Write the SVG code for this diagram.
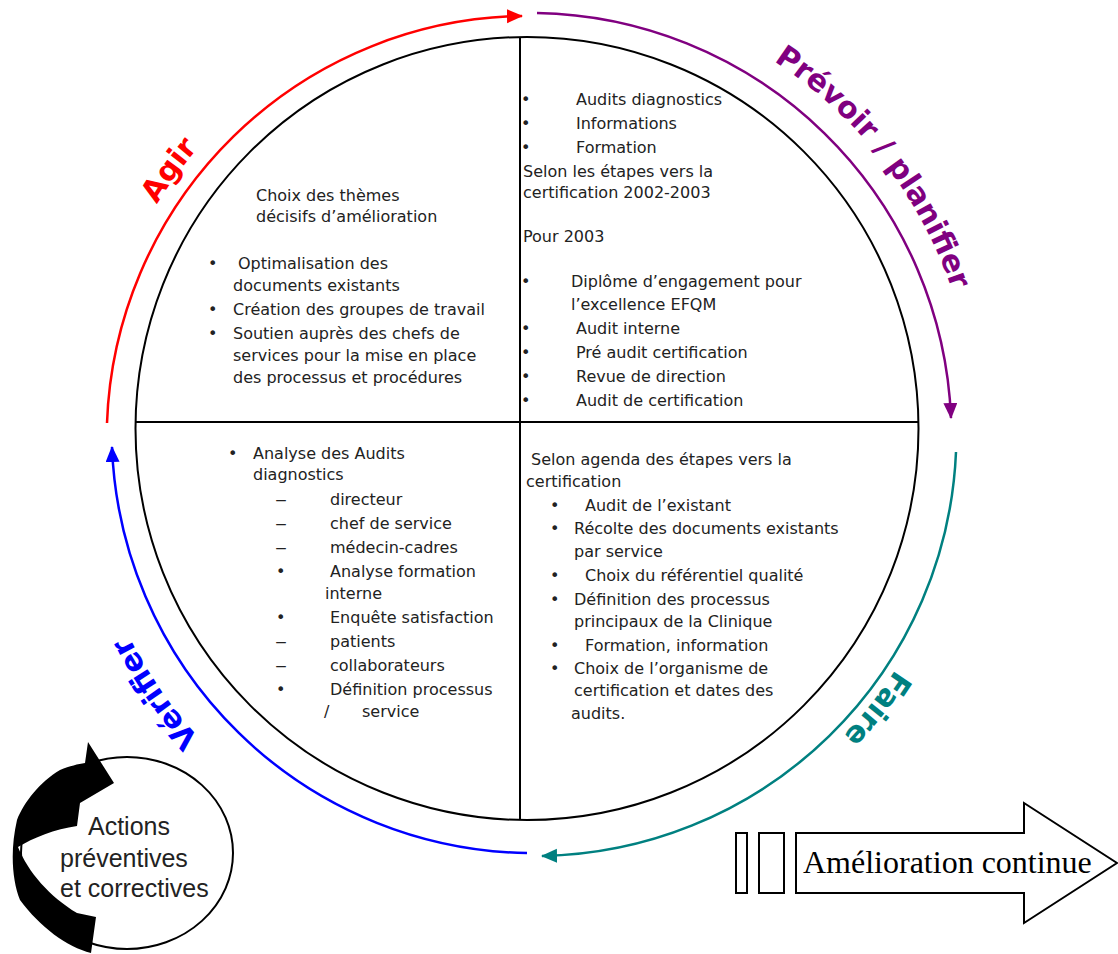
<svg xmlns="http://www.w3.org/2000/svg" width="1118" height="954" viewBox="0 0 1118 954">
<style>
  .t { font-family: "DejaVu Sans", "Liberation Sans", sans-serif; font-size: 16px; fill: #222; }
  .lbl { font-family: "DejaVu Sans", "Liberation Sans", sans-serif; font-size: 30px; font-weight: bold; }
  .arc { fill: none; stroke-width: 2.5; }
  .blk { fill: none; stroke: #000; stroke-width: 2; }
</style>
<defs>
  <marker id="mRed" markerUnits="userSpaceOnUse" markerWidth="18" markerHeight="16" refX="15" refY="7" orient="auto"><path d="M0,0 L16,7 L0,14 z" fill="#FF0000"/></marker>
  <marker id="mPur" markerUnits="userSpaceOnUse" markerWidth="18" markerHeight="16" refX="15" refY="7" orient="auto"><path d="M0,0 L16,7 L0,14 z" fill="#800080"/></marker>
  <marker id="mTeal" markerUnits="userSpaceOnUse" markerWidth="18" markerHeight="16" refX="15" refY="7" orient="auto"><path d="M0,0 L16,7 L0,14 z" fill="#008080"/></marker>
  <marker id="mBlue" markerUnits="userSpaceOnUse" markerWidth="18" markerHeight="16" refX="15" refY="7" orient="auto"><path d="M0,0 L16,7 L0,14 z" fill="#0000FF"/></marker>
  <path id="pAgir" d="M 92 434 A 439 439 0 1 1 970 434 A 439 439 0 1 1 92 434"/>
  <path id="pPrev" d="M 86 434 A 445 445 0 1 1 976 434 A 445 445 0 1 1 86 434"/>
  <path id="pFaire" d="M 97 434 A 434 434 0 1 1 965 434 A 434 434 0 1 1 97 434"/>
  <path id="pVerif" d="M 81 434 A 450 450 0 1 1 981 434 A 450 450 0 1 1 81 434"/>
</defs>
<rect width="1118" height="954" fill="#fff"/>

<g id="cycle">
  <circle cx="527" cy="428.5" r="391.5" class="blk"/>
  <line x1="136" y1="422" x2="918" y2="422" class="blk"/>
  <line x1="520" y1="37" x2="520" y2="820" class="blk"/>
</g>

<g id="connectors">
  <path class="arc" stroke="#FF0000" d="M 107 423 A 422 422 0 0 1 522 16" marker-end="url(#mRed)"/>
  <path class="arc" stroke="#800080" d="M 537 13 A 422 422 0 0 1 951 418" marker-end="url(#mPur)"/>
  <path class="arc" stroke="#008080" d="M 956 452 A 422 422 0 0 1 542 856" marker-end="url(#mTeal)"/>
  <path class="arc" stroke="#0000FF" d="M 527 853 A 422 422 0 0 1 112 447" marker-end="url(#mBlue)"/>
</g>

<g id="label-agir"><text class="lbl" fill="#FF0000"><textPath href="#pAgir" startOffset="276.6" text-anchor="middle">Agir</textPath></text></g>
<g id="label-prevoir"><text class="lbl" fill="#800080"><textPath href="#pPrev" startOffset="1103.3" text-anchor="middle">Prévoir / planifier</textPath></text></g>
<g id="label-faire"><text class="lbl" fill="#008080"><textPath href="#pFaire" startOffset="1654.3" text-anchor="middle">Faire</textPath></text></g>
<g id="label-verifier"><text class="lbl" fill="#0000FF"><textPath href="#pVerif" startOffset="2555" text-anchor="middle">Vérifier</textPath></text></g>

<g id="q-agir">
  <text class="t" x="256" y="201">Choix des thèmes</text>
  <text class="t" x="256" y="222">décisifs d’amélioration</text>
  <text class="t" x="208" y="269">•</text><text class="t" x="238" y="269">Optimalisation des</text>
  <text class="t" x="233" y="291">documents existants</text>
  <text class="t" x="208" y="315">•</text><text class="t" x="233" y="315">Création des groupes de travail</text>
  <text class="t" x="208" y="339">•</text><text class="t" x="233" y="339">Soutien auprès des chefs de</text>
  <text class="t" x="233" y="361">services pour la mise en place</text>
  <text class="t" x="233" y="383">des processus et procédures</text>
</g>

<g id="q-prevoir">
  <text class="t" x="521" y="105">•</text><text class="t" x="576" y="105">Audits diagnostics</text>
  <text class="t" x="521" y="129">•</text><text class="t" x="576" y="129">Informations</text>
  <text class="t" x="521" y="153">•</text><text class="t" x="576" y="153">Formation</text>
  <text class="t" x="523" y="177">Selon les étapes vers la</text>
  <text class="t" x="523" y="198">certification 2002-2003</text>
  <text class="t" x="523" y="242">Pour 2003</text>
  <text class="t" x="521" y="287">•</text><text class="t" x="571" y="287">Diplôme d’engagement pour</text>
  <text class="t" x="571" y="310">l’excellence EFQM</text>
  <text class="t" x="521" y="334">•</text><text class="t" x="576" y="334">Audit interne</text>
  <text class="t" x="521" y="358">•</text><text class="t" x="576" y="358">Pré audit certification</text>
  <text class="t" x="521" y="382">•</text><text class="t" x="576" y="382">Revue de direction</text>
  <text class="t" x="521" y="406">•</text><text class="t" x="576" y="406">Audit de certification</text>
</g>

<g id="q-verifier">
  <text class="t" x="228" y="459">•</text><text class="t" x="253" y="459">Analyse des Audits</text>
  <text class="t" x="253" y="480">diagnostics</text>
  <text class="t" x="275" y="505" textLength="12" lengthAdjust="spacingAndGlyphs">–</text><text class="t" x="330" y="505">directeur</text>
  <text class="t" x="275" y="529" textLength="12" lengthAdjust="spacingAndGlyphs">–</text><text class="t" x="330" y="529">chef de service</text>
  <text class="t" x="275" y="553" textLength="12" lengthAdjust="spacingAndGlyphs">–</text><text class="t" x="330" y="553">médecin-cadres</text>
  <text class="t" x="276" y="577">•</text><text class="t" x="330" y="577">Analyse formation</text>
  <text class="t" x="325" y="599">interne</text>
  <text class="t" x="276" y="623">•</text><text class="t" x="330" y="623">Enquête satisfaction</text>
  <text class="t" x="275" y="647" textLength="12" lengthAdjust="spacingAndGlyphs">–</text><text class="t" x="330" y="647">patients</text>
  <text class="t" x="275" y="671" textLength="12" lengthAdjust="spacingAndGlyphs">–</text><text class="t" x="330" y="671">collaborateurs</text>
  <text class="t" x="276" y="695">•</text><text class="t" x="330" y="695">Définition processus</text>
  <text class="t" x="324" y="717">/</text><text class="t" x="362" y="717">service</text>
</g>

<g id="q-faire">
  <text class="t" x="531" y="465">Selon agenda des étapes vers la</text>
  <text class="t" x="526" y="487">certification</text>
  <text class="t" x="550" y="511">•</text><text class="t" x="585" y="511">Audit de l’existant</text>
  <text class="t" x="550" y="534">•</text><text class="t" x="574" y="534">Récolte des documents existants</text>
  <text class="t" x="574" y="557">par service</text>
  <text class="t" x="550" y="581">•</text><text class="t" x="585" y="581">Choix du référentiel qualité</text>
  <text class="t" x="550" y="605">•</text><text class="t" x="574" y="605">Définition des processus</text>
  <text class="t" x="574" y="627">principaux de la Clinique</text>
  <text class="t" x="550" y="651">•</text><text class="t" x="585" y="651">Formation, information</text>
  <text class="t" x="550" y="674">•</text><text class="t" x="574" y="674">Choix de l’organisme de</text>
  <text class="t" x="574" y="696">certification et dates des</text>
  <text class="t" x="571" y="719">audits.</text>
</g>

<g id="actions">
  <ellipse cx="127" cy="853" rx="106" ry="96" fill="none" stroke="#000" stroke-width="2"/>
  <path d="M 88 742 L 114 783 L 80 803 L 77 826 C 55 829 33 838 18 847 C 28 872 50 897 77 913 L 96 917 L 91 953 C 67 947 40 927 20 900 C 12 880 10 850 17 820 C 24 802 40 782 60 770 C 70 766 78 764 85 763 Z" fill="#000"/>
  <text font-family="Liberation Sans, Arial, sans-serif" font-size="25" fill="#222" x="88" y="835">Actions</text>
  <text font-family="Liberation Sans, Arial, sans-serif" font-size="25" fill="#222" x="60" y="867">préventives</text>
  <text font-family="Liberation Sans, Arial, sans-serif" font-size="25" fill="#222" x="60" y="897">et correctives</text>
</g>

<g id="amelioration">
  <rect x="736" y="833" width="11" height="60" class="blk" fill="#fff"/>
  <rect x="759" y="833" width="25" height="60" class="blk" fill="#fff"/>
  <polygon points="796,833 1024,833 1024,803 1117,863 1024,923 1024,893 796,893" fill="#fff" stroke="#000" stroke-width="2"/>
  <text font-family="Liberation Serif, Times New Roman, serif" font-size="32" fill="#000" x="803" y="873">Amélioration continue</text>
</g>
</svg>
